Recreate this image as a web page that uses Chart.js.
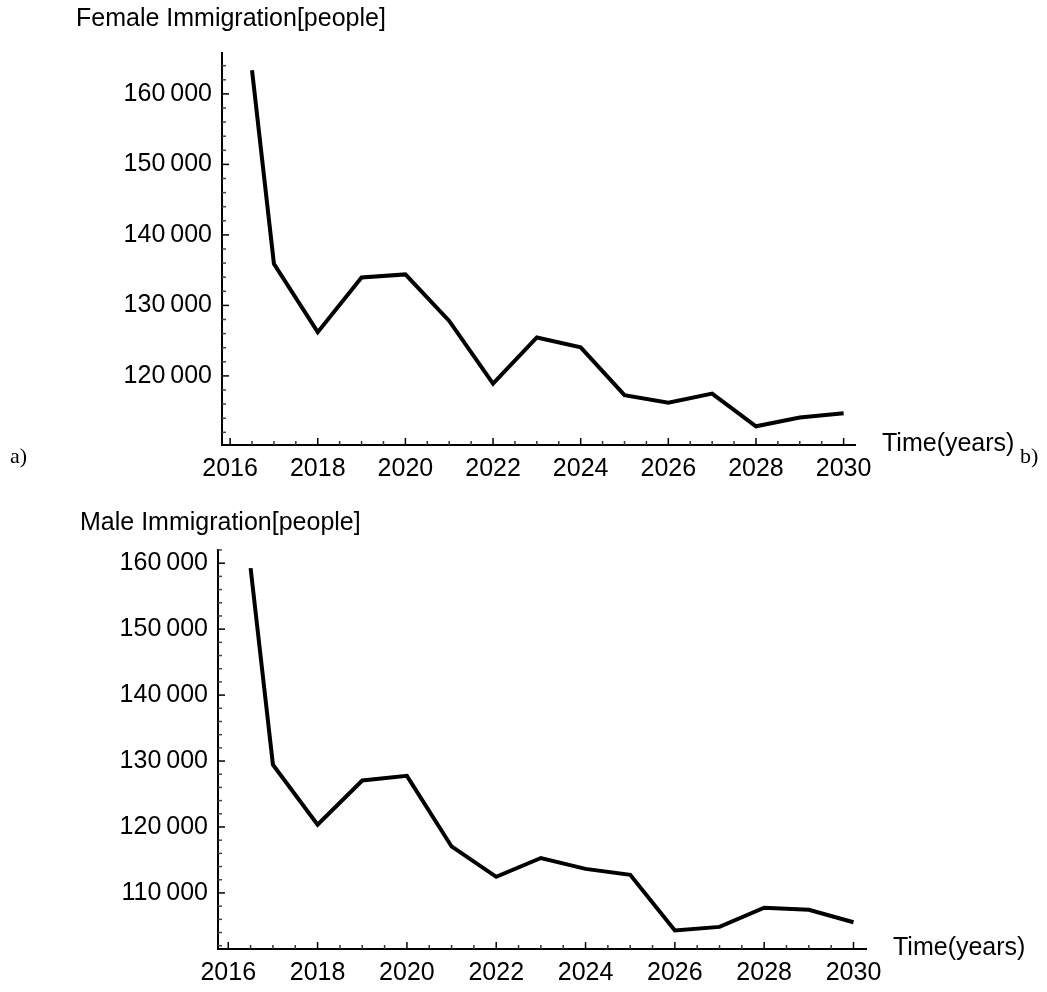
<!DOCTYPE html>
<html>
<head>
<meta charset="utf-8">
<script src="https://cdn.jsdelivr.net/npm/chart.js@4.4.1/dist/chart.umd.min.js"></script>
<style>
  body { margin: 0; background: #fff; width: 1047px; height: 992px; position: relative; overflow: hidden; }
  canvas { position: absolute; left: 0; }
  .lbl { position: absolute; font-family: 'Liberation Sans', Arial, sans-serif; font-size: 25px; color: #000; white-space: nowrap; line-height: 1; }
  .tag { position: absolute; font-family: 'Liberation Serif', 'Times New Roman', serif; font-size: 22px; color: #000; line-height: 1; }
</style>
</head>
<body>
<canvas id="femaleChart" width="1047" height="490" style="top:0"></canvas>
<canvas id="maleChart" width="1047" height="502" style="top:490px"></canvas>

<div class="lbl" style="left:76px; top:5px">Female Immigration[people]</div>
<div class="lbl" style="left:882px; top:430px">Time(years)</div>
<div class="tag" style="left:10px; top:445px">a)</div>
<div class="tag" style="left:1020px; top:445px">b)</div>
<div class="lbl" style="left:80px; top:509px">Male Immigration[people]</div>
<div class="lbl" style="left:893px; top:934px">Time(years)</div>

<script>
// years of the simulation (first point is mid 2016)
const years = [2016.5, 2017, 2018, 2019, 2020, 2021, 2022, 2023, 2024, 2025, 2026, 2027, 2028, 2029, 2030];
const femaleImmigration = [163350, 135900, 126200, 133950, 134400, 127800, 118900, 125450, 124050, 117260, 116200, 117500, 112850, 114100, 114700];
const maleImmigration = [159250, 129450, 120350, 127050, 127750, 117050, 112450, 115300, 113650, 112750, 104300, 104850, 107750, 107450, 105550];

// tick spacing
const yearMinor = 0.5, yearMajor = 2;
const peopleMinor = 2000, peopleMajor = 10000;

const FONT = "'Liberation Sans', Arial, sans-serif";

function isMultiple(v, step) {
  const r = v / step;
  return Math.abs(r - Math.round(r)) < 1e-6;
}

function fmtPeople(v) {
  // Mathematica style: 160 000 with a thin space
  const s = String(Math.round(v));
  return s.slice(0, s.length - 3) + '\u2009' + s.slice(s.length - 3);
}

// chart.js moves the first tick onto min when min/max are "almost" whole steps,
// so build the ticks ourselves on round multiples of the step
function stepTicks(step) {
  return scale => {
    const out = [];
    for (let k = Math.ceil(scale.min / step - 1e-9); k * step <= scale.max + 1e-9; k++) {
      out.push({ value: k * step });
    }
    scale.ticks = out;
  };
}

// draw tick marks pointing inside the plot, long on major ticks
const innerTicks = {
  id: 'innerTicks',
  afterDraw(chart) {
    const ctx = chart.ctx;
    const xs = chart.scales.x, ys = chart.scales.y;
    const area = chart.chartArea;
    ctx.save();
    ctx.lineWidth = 1.5;
    xs.ticks.forEach(t => {
      const px = xs.getPixelForValue(t.value);
      const major = isMultiple(t.value, yearMajor);
      ctx.strokeStyle = major ? '#000' : '#333';
      ctx.beginPath();
      ctx.moveTo(px, area.bottom);
      ctx.lineTo(px, area.bottom - (major ? 7 : 4));
      ctx.stroke();
    });
    ys.ticks.forEach(t => {
      const py = ys.getPixelForValue(t.value);
      const major = isMultiple(t.value, peopleMajor);
      ctx.strokeStyle = major ? '#000' : '#444';
      ctx.beginPath();
      ctx.moveTo(area.left, py);
      ctx.lineTo(area.left + (major ? 7 : 4), py);
      ctx.stroke();
    });
    ctx.restore();
  }
};

function makeChart(id, values, cfg) {
  const ctx = document.getElementById(id).getContext('2d');
  return new Chart(ctx, {
    type: 'line',
    data: {
      datasets: [{
        data: years.map((y, i) => ({ x: y, y: values[i] })),
        borderColor: '#000',
        borderWidth: 4,
        pointRadius: 0,
        tension: 0,
        fill: false
      }]
    },
    options: {
      responsive: false,
      animation: false,
      layout: { padding: { left: 0, right: cfg.padRight, top: cfg.padTop, bottom: 0 } },
      plugins: { legend: { display: false }, tooltip: { enabled: false } },
      scales: {
        x: {
          type: 'linear',
          min: cfg.xMin,
          max: cfg.xMax,
          afterBuildTicks: stepTicks(yearMinor),
          afterFit: s => { s.height = cfg.xHeight; },
          grid: { display: false, drawTicks: false },
          border: { display: true, color: '#000', width: 2 },
          ticks: {
            autoSkip: false,
            maxRotation: 0,
            padding: 9,
            color: '#000',
            font: { family: FONT, size: 25 },
            callback: v => (isMultiple(v, yearMajor) ? String(Math.round(v)) : '')
          }
        },
        y: {
          type: 'linear',
          min: cfg.yMin,
          max: cfg.yMax,
          afterBuildTicks: stepTicks(peopleMinor),
          afterFit: s => { s.width = cfg.yWidth; },
          grid: { display: false, drawTicks: false },
          border: { display: true, color: '#000', width: 2 },
          ticks: {
            autoSkip: false,
            padding: 10,
            color: '#000',
            font: { family: FONT, size: 25 },
            callback: v => (isMultiple(v, peopleMajor) ? fmtPeople(v) : '')
          }
        }
      }
    },
    plugins: [innerTicks]
  });
}

makeChart('femaleChart', femaleImmigration, {
  xMin: 2015.815, xMax: 2030.26, yMin: 110200, yMax: 165800,
  yWidth: 222, xHeight: 45, padRight: 192, padTop: 53
});

makeChart('maleChart', maleImmigration, {
  xMin: 2015.77, xMax: 2030.28, yMin: 101500, yMax: 162000,
  yWidth: 218, xHeight: 43, padRight: 181, padTop: 60
});
</script>
</body>
</html>
